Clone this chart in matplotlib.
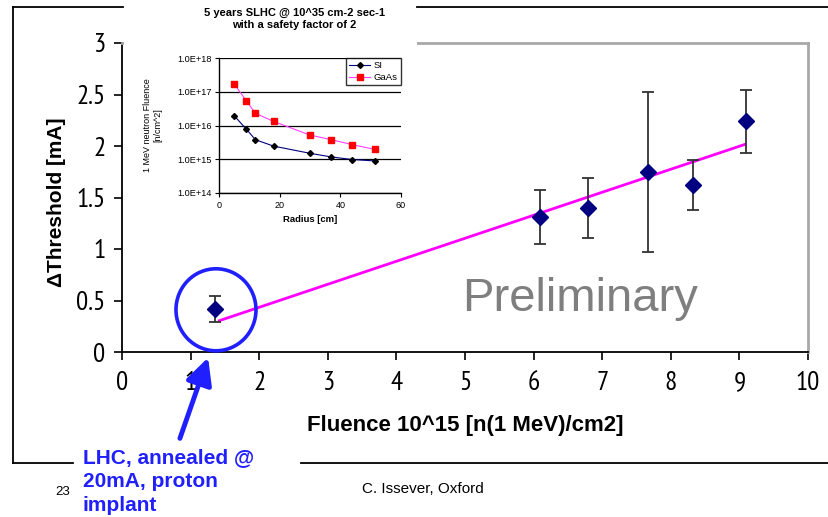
import matplotlib
matplotlib.use("Agg")
import matplotlib.pyplot as plt
from matplotlib.patches import Rectangle, Ellipse, FancyArrowPatch
from matplotlib.lines import Line2D
from matplotlib import font_manager

# ---- main chart data: threshold shift vs. fluence ----
fluence = [1.36, 6.10, 6.80, 7.67, 8.32, 9.10]
delta_threshold = [0.42, 1.31, 1.40, 1.75, 1.62, 2.24]
threshold_err = [0.125, 0.265, 0.29, 0.775, 0.24, 0.305]
fit_x = [1.40, 9.10]
fit_y = [0.30, 2.02]
x_ticks = [0, 1, 2, 3, 4, 5, 6, 7, 8, 9, 10]
y_ticks = [0, 0.5, 1, 1.5, 2, 2.5, 3]
y_tick_labels = ["0", "0.5", "1", "1.5", "2", "2.5", "3"]

# ---- inset data: 1 MeV neutron fluence vs. radius ----
radius = [5, 9, 12, 18, 30, 37, 44, 51.5]
si_fluence = [1.95e16, 7.8e15, 3.8e15, 2.45e15, 1.5e15, 1.17e15, 9.8e14, 8.9e14]
gaas_fluence = [1.7e17, 5.4e16, 2.3e16, 1.32e16, 5.2e15, 3.8e15, 2.7e15, 1.95e15]
inset_x_ticks = [0, 20, 40, 60]
inset_y_ticks = [1e14, 1e15, 1e16, 1e17, 1e18]
inset_y_labels = ["1.0E+14", "1.0E+15", "1.0E+16", "1.0E+17", "1.0E+18"]

W, H = 829, 517
fig = plt.figure(figsize=(W / 100, H / 100), dpi=100)
fig.patch.set_facecolor("white")


def fx(x):
    return x / W


def fy(y):
    return 1 - y / H


installed = {f.name for f in font_manager.fontManager.ttflist}
narrow_candidates = ["Liberation Sans Narrow", "Arial Narrow", "PT Sans Narrow",
                     "Archivo Narrow", "Roboto Condensed", "Sofia Sans Semi Condensed"]
narrow = [f for f in narrow_candidates if f in installed][:1] + ["Liberation Sans", "DejaVu Sans"]
sans = ["Liberation Sans", "DejaVu Sans"]
plt.rcParams["font.family"] = sans

blue = "#1f1fff"
navy = "#000080"

# ---- main axes ----
ax_w = 808 - 122
ax = fig.add_axes([fx(122), fy(352), fx(808) - fx(122), fy(43) - fy(352)])
ax.set_zorder(0)
ax.set_xlim(0, 10)
ax.set_ylim(0, 3)
ax.set_xticks(x_ticks)
ax.set_xticklabels([str(t) for t in x_ticks], family=narrow, fontsize=19.5)
ax.set_yticks(y_ticks)
ax.set_yticklabels(y_tick_labels, family=narrow, fontsize=19.5)
ax.tick_params(axis="both", direction="out", length=6, width=1.2, color="black")
ax.tick_params(axis="x", pad=8)
ax.tick_params(axis="y", pad=6)
for side in ("left", "bottom"):
    ax.spines[side].set_color("black")
    ax.spines[side].set_linewidth(1.3)
for side in ("top", "right"):
    ax.spines[side].set_color("#a8a8a8")
    ax.spines[side].set_linewidth(2)

ax.plot(fit_x, fit_y, color="#ff00ff", lw=2, zorder=2, solid_capstyle="butt")
ax.errorbar(fluence, delta_threshold, yerr=threshold_err, fmt="none",
            ecolor="#333333", elinewidth=1.3, capsize=4.3, capthick=1.3, zorder=3)
ax.plot(fluence, delta_threshold, linestyle="none", marker="D", markersize=8,
        markerfacecolor=navy, markeredgecolor=navy, zorder=4)

ax.set_xlabel("Fluence 10^15 [n(1 MeV)/cm2]", fontsize=16, fontweight="bold",
              labelpad=14)
ax.set_ylabel("\u0394Threshold [mA]", fontsize=15, fontweight="bold")
ax.yaxis.set_label_coords((66 - 122) / ax_w, 0.485)

ax.text(4.96, 0.40, "Preliminary", fontsize=34, color="#7f7f7f",
        ha="left", va="baseline")

# circle highlighting the LHC point
ax.add_patch(Ellipse((fluence[0] + 0.01, delta_threshold[0] - 0.01),
                     width=80 / 68.6, height=82 / 103, fill=False,
                     edgecolor=blue, lw=2.6, clip_on=False, zorder=5))

# ---- white backing for the inset ----
fig.add_artist(Rectangle((fx(124), fy(236)), fx(417) - fx(124), fy(0) - fy(236),
                         transform=fig.transFigure, facecolor="white",
                         edgecolor="none", zorder=1))

# ---- inset axes ----
iax = fig.add_axes([fx(219), fy(193), fx(401) - fx(219), fy(58) - fy(193)])
iax.set_zorder(2)
iax.set_yscale("log")
iax.set_xlim(0, 60)
iax.set_ylim(1e14, 1e18)
iax.set_xticks(inset_x_ticks)
iax.set_xticklabels([str(t) for t in inset_x_ticks], fontsize=6.5)
iax.set_yticks(inset_y_ticks)
iax.set_yticklabels(inset_y_labels, fontsize=6.6)
iax.yaxis.set_minor_locator(matplotlib.ticker.NullLocator())
iax.tick_params(direction="out", length=3, width=0.8, pad=2.5)
iax.grid(axis="y", color="black", lw=0.9)
iax.spines["top"].set_visible(False)
iax.spines["right"].set_visible(False)
for side in ("left", "bottom"):
    iax.spines[side].set_linewidth(1.0)
iax.plot(radius, si_fluence, color=navy, lw=0.8, marker="D", markersize=3,
         markerfacecolor="black", markeredgecolor="black", label="SI")
iax.plot(radius, gaas_fluence, color="#ff40ff", lw=0.8, marker="s", markersize=4.5,
         markerfacecolor="#ff0000", markeredgecolor="#ff0000", label="GaAs")
leg = iax.legend(loc="upper right", bbox_to_anchor=(1.0, 1.0), fontsize=6.8,
                 frameon=True, fancybox=False, borderpad=0.35, handlelength=2.2,
                 labelspacing=0.3, borderaxespad=0.0, handletextpad=0.4)
leg.get_frame().set_edgecolor("black")
leg.get_frame().set_linewidth(1.0)
iax.set_xlabel("Radius [cm]", fontsize=6.8, fontweight="bold", labelpad=4)
iax.set_ylabel("1 MeV neutron Fluence\n[n/cm^2]", fontsize=6.5)
iax.yaxis.set_label_coords(-(219 - 162) / (401 - 219), 0.5)
fig.text(fx(294), fy(19), "5 years SLHC @ 10^35 cm-2 sec-1\nwith a safety factor of 2",
         ha="center", va="center", fontsize=8, fontweight="bold",
         linespacing=1.2, zorder=3)

# ---- slide frame ----
frame_kw = dict(transform=fig.transFigure, color="black", lw=1.3, zorder=6)
fig.add_artist(Line2D([fx(13), fx(123)], [fy(7), fy(7)], **frame_kw))
fig.add_artist(Line2D([fx(417), fx(829)], [fy(7), fy(7)], **frame_kw))
fig.add_artist(Line2D([fx(13), fx(13)], [fy(7), fy(463)], **frame_kw))
fig.add_artist(Line2D([fx(13), fx(73)], [fy(463), fy(463)], **frame_kw))
fig.add_artist(Line2D([fx(301), fx(829)], [fy(463), fy(463)], **frame_kw))

# ---- annotation arrow and text ----
fig.add_artist(FancyArrowPatch((fx(179), fy(441)), (fx(209), fy(355)),
                               transform=fig.transFigure,
                               arrowstyle="-|>,head_length=0.8,head_width=0.4",
                               mutation_scale=20, lw=3.5, color=blue, zorder=7))
fig.text(fx(83), fy(448), "LHC, annealed @\n20mA, proton\nimplant",
         ha="left", va="top", fontsize=15, fontweight="bold",
         color=blue, linespacing=1.33, zorder=7)
fig.text(fx(55), fy(495), "23", fontsize=9.5, ha="left", va="baseline")
fig.text(fx(362), fy(493), "C. Issever, Oxford", fontsize=11, ha="left",
         va="baseline")

fig.savefig("out.png", dpi=100, facecolor="white")
